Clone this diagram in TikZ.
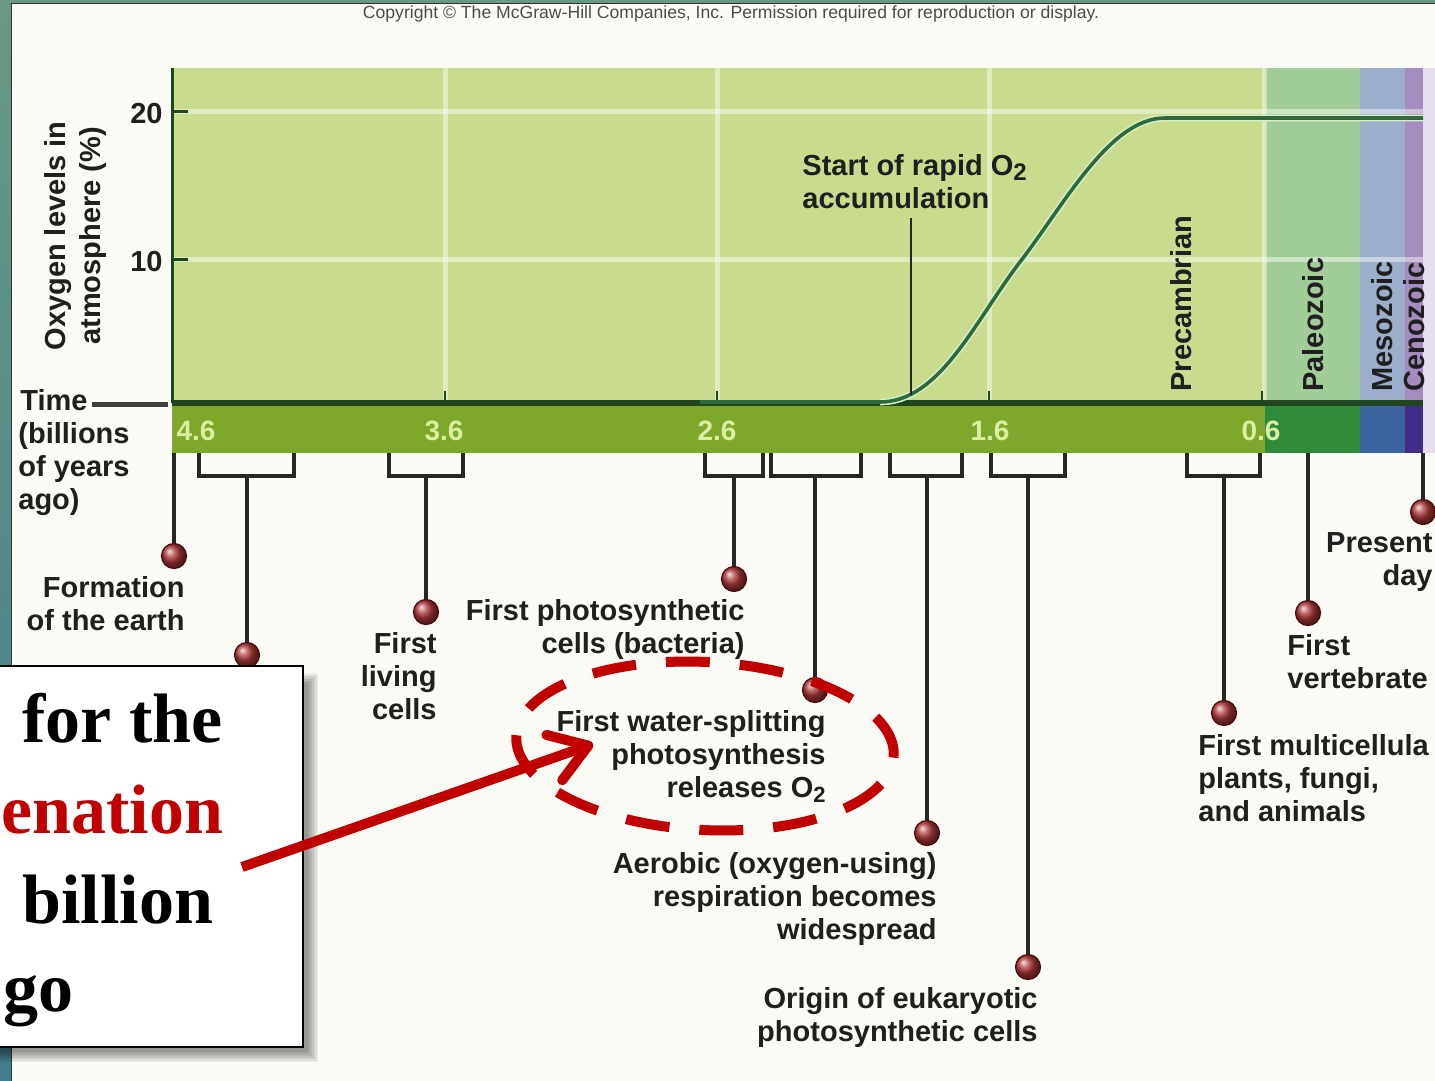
\documentclass[tikz,border=0pt]{standalone}
\usepackage{fontspec}
\setmainfont{Liberation Sans}
\newfontfamily\boxserif{Liberation Serif}
\usetikzlibrary{arrows.meta,shapes.geometric}
\definecolor{panel}{HTML}{FBFBF5}
\definecolor{precam}{HTML}{C9DC8E}
\definecolor{paleo}{HTML}{A3CD98}
\definecolor{meso}{HTML}{9CAECB}
\definecolor{ceno}{HTML}{A58CC0}
\definecolor{bandpre}{HTML}{7EA72B}
\definecolor{bandpal}{HTML}{2F8A3C}
\definecolor{bandmes}{HTML}{3D62A0}
\definecolor{bandcen}{HTML}{402C86}
\definecolor{axisdk}{HTML}{1F4620}
\definecolor{curvedk}{HTML}{2E6B3C}
\definecolor{curvelt}{HTML}{D6EEC4}
\definecolor{tickcol}{HTML}{DDEEA2}
\definecolor{slidered}{HTML}{C00000}
\definecolor{tealA}{HTML}{6A9884}
\definecolor{tealB}{HTML}{3F7D8C}
\definecolor{dotred}{HTML}{B03838}
\definecolor{dotedge}{HTML}{4A0E0E}
\definecolor{rightlt}{HTML}{E6DEEE}
\begin{document}
\begin{tikzpicture}[x=0.5pt,y=-0.5pt,
  lbl/.style={font=\fontsize{14.5}{16.5}\selectfont\bfseries, inner sep=0pt, text=black!88},
  evdot/.style={circle, inner sep=0pt, minimum size=12.5pt, ball color=dotred, draw=dotedge, line width=0.6pt},
  brk/.style={draw=black!85, line width=2pt, line join=miter},
  stemline/.style={draw=black!85, line width=2pt},
  eralbl/.style={lbl, rotate=90, anchor=west},
  axisnum/.style={font=\fontsize{14}{14}\selectfont\bfseries, text=tickcol, inner sep=0pt},
  boxtxt/.style={font=\boxserif\bfseries\fontsize{35}{35}\selectfont, inner sep=0pt, anchor=base west},
  gridln/.style={draw=white, opacity=0.45, line width=2.5pt},
]
\useasboundingbox (0,0) rectangle (1435,1081);
% slide background
\fill[top color=tealA, bottom color=tealB] (0,0) rectangle (12,1081);
\fill[tealA] (0,0) rectangle (1435,4);
\fill[panel] (12,4) rectangle (1435,1081);
\draw[black!80, line width=0.8pt] (11.5,1081) -- (11.5,3.5) -- (1435,3.5);

% copyright
\node (copy) [inner sep=0pt, font=\fontsize{8.8}{9}\selectfont, text=black!70] at (731,14)
  {Copyright \textcopyright\ The McGraw-Hill Companies, Inc. Permission required for reproduction or display.};

% plot area
\fill[precam] (172,68) rectangle (1265,400);
\fill[paleo] (1265,68) rectangle (1360,400);
\fill[meso] (1360,68) rectangle (1405,400);
\fill[ceno] (1405,68) rectangle (1423,400);
\fill[rightlt] (1423,68) rectangle (1435,453);
\draw[gridln] (172,112) -- (1423,112);
\draw[gridln] (172,259) -- (1423,259);
\foreach \gx in {445,717,989,1264} \draw[gridln] (\gx,68) -- (\gx,400);

% time band
\fill[bandpre] (172,403) rectangle (1265,453);
\fill[bandpal] (1265,403) rectangle (1360,453);
\fill[bandmes] (1360,403) rectangle (1405,453);
\fill[bandcen] (1405,403) rectangle (1423,453);

% axes
\draw[axisdk, line width=3pt] (172,403) -- (1423,403);
\draw[axisdk, line width=1.5pt] (172,68) -- (172,403);
\draw[axisdk, line width=1.5pt] (172,112) -- (188,112);
\draw[axisdk, line width=1.5pt] (172,259) -- (188,259);
\foreach \gx in {445,717,989,1262} \draw[axisdk, line width=1pt] (\gx,391) -- (\gx,401);

% O2 curve
\draw[curvelt, line width=3.4pt] (880,402) .. controls (940,402) and (975,320.5) .. (1020,262) .. controls (1065,203.5) and (1110,118) .. (1165,118) -- (1423,118);
\draw[curvedk, line width=1.8pt] (700,402) -- (880,402) .. controls (940,402) and (975,320.5) .. (1020,262) .. controls (1065,203.5) and (1110,118) .. (1165,118) -- (1423,118);

% axis numbers
\node (y20) [lbl, anchor=east] at (163,114) {20};
\node (y10) [lbl, anchor=east] at (163,262) {10};
\node (ylab) [lbl, rotate=90, align=center, font=\fontsize{14.5}{17.5}\selectfont\bfseries] at (76,236) {Oxygen levels in\\atmosphere (\%)};
\node (t46) [axisnum] at (196,431) {4.6};
\node (t36) [axisnum] at (444,431) {3.6};
\node (t26) [axisnum] at (717,431) {2.6};
\node (t16) [axisnum] at (990,431) {1.6};
\node (t06) [axisnum] at (1261,431) {0.6};

% time label
\node (timelbl) [lbl, anchor=base west] at (20,410) {Time};
\node (timeunit) [lbl, anchor=north west, align=left] at (18,422) {(billions\\of years\\ago)};
\coordinate (timeend) at (168,404);
\draw[black!75, line width=2.5pt] ([xshift=2pt]timelbl.east |- timeend) -- (timeend);

% era labels
\node (precamb) [eralbl] at (1181,392) {Precambrian};
\node (paleoz) [eralbl] at (1313,392) {Paleozoic};
\node (mesoz) [eralbl] at (1382,392) {Mesozoic};
\node (cenoz) [eralbl] at (1414,392) {Cenozoic};

% start of rapid O2
\node (startO2) [lbl, anchor=north west, align=left] at (802,154)
  {Start of rapid O\raisebox{-0.35ex}{\fontsize{12}{12}\selectfont 2}\\accumulation};
\coordinate (o2top) at (911,218);
\coordinate (o2pt) at (911,395);
\draw[black!85, line width=1.2pt] (o2top) -- (o2pt);

% event dots
\node (d0) [evdot] at (174,556) {};
\node (d1) [evdot] at (247,655) {};
\node (d2) [evdot] at (426,612) {};
\node (d3) [evdot] at (734,579) {};
\node (d4) [evdot] at (815,690) {};
\node (d5) [evdot] at (927,833) {};
\node (d6) [evdot] at (1028,967) {};
\node (d7) [evdot] at (1224,713) {};
\node (d8) [evdot] at (1308,613) {};
\node (d9) [evdot] at (1423,512) {};

% brackets and stems
\coordinate (s0) at (174,453);
\coordinate (s8) at (1308,453);
\coordinate (s9) at (1423,453);
\draw[stemline] (s0) -- (d0);
\draw[stemline] (s8) -- (d8);
\draw[stemline] (s9) -- (d9);
\foreach \xl/\xr/\xs/\n in {199/294/247/1, 389/463/426/2, 705/763/734/3, 771/861/815/4, 890/962/927/5, 991/1065/1028/6, 1187/1260/1224/7}{
  \draw[brk] (\xl,453) |- (\xr,476) -- (\xr,453);
  \coordinate (b\n) at (\xs,476);
  \draw[stemline] (b\n) -- (d\n);
}

% event labels
\node (formation) [lbl, anchor=north east, align=right] at (185,576) {Formation\\of the earth};
\node (living) [lbl, anchor=north east, align=right] at (437,632) {First\\living\\cells};
\node (photo) [lbl, anchor=north east, align=right] at (745,599) {First photosynthetic\\cells (bacteria)};
\node (water) [lbl, anchor=north east, align=right] at (826,710)
  {First water-splitting\\photosynthesis\\releases O\raisebox{-0.35ex}{\fontsize{11}{11}\selectfont 2}};
\node (aerobic) [lbl, anchor=north east, align=right] at (937,852) {Aerobic (oxygen-using)\\respiration becomes\\widespread};
\node (origin) [lbl, anchor=north east, align=right] at (1038,987) {Origin of eukaryotic\\photosynthetic cells};
\node (multi) [lbl, anchor=north west, align=left] at (1198,734) {First multicellula\\plants, fungi,\\and animals};
\node (vert) [lbl, anchor=north west, align=left] at (1287,634) {First\\vertebrate};
\node (present) [lbl, anchor=north east, align=right] at (1433,532) {Present\\day};

% red dashed ellipse
\node (oval) [ellipse, draw=slidered, line width=5pt, dash pattern=on 22pt off 15pt, rotate=-3,
  minimum width=189pt, minimum height=84pt, inner sep=0pt] at (705,746) {};

% message box shadow (layered soft shadow)
\foreach \k in {0,...,7}{
  \fill[black, opacity=0.06] (-20+\k*1.5, 673+\k*1.5) rectangle (318-\k*1.5, 1062-\k*1.5);
}
% message box
\node (msgbox) [draw=black, line width=1pt, fill=white, anchor=north east, inner sep=0pt,
  minimum width=164pt, minimum height=190.5pt] at (304,665) {};
\node (bt1) [boxtxt] at (22,742) {for the};
\node (bt2) [boxtxt, text=slidered] at (1,833) {enation};
\node (bt3) [boxtxt] at (22,923) {billion};
\node (bt4) [boxtxt] at (3,1011) {go};

% red arrow
\coordinate (arrtail) at (242,867);
\coordinate (arrtip) at (593,744);
\draw[slidered, line width=5pt, -{Straight Barb[length=18pt, width=24pt, line cap=round, line join=round]}] (arrtail) -- (arrtip);
\end{tikzpicture}
\end{document}
